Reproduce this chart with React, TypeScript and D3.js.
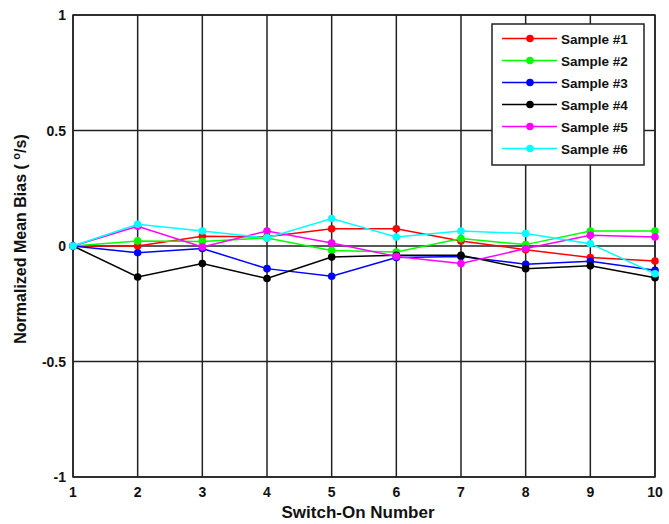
import React from "react";
import * as d3 from "d3";

const switchOn = [1, 2, 3, 4, 5, 6, 7, 8, 9, 10];
const sample1 = [0, 0.0, 0.042, 0.04, 0.075, 0.075, 0.022, -0.016, -0.05, -0.065];
const sample2 = [0, 0.022, 0.02, 0.035, -0.019, -0.026, 0.032, 0.006, 0.065, 0.065];
const sample3 = [0, -0.029, -0.011, -0.098, -0.131, -0.05, -0.045, -0.079, -0.066, -0.105];
const sample4 = [0, -0.134, -0.076, -0.141, -0.048, -0.04, -0.04, -0.098, -0.086, -0.137];
const sample5 = [0, 0.085, -0.004, 0.065, 0.013, -0.045, -0.076, -0.011, 0.046, 0.039];
const sample6 = [0, 0.094, 0.065, 0.035, 0.119, 0.039, 0.065, 0.054, 0.01, -0.12];
const seriesNames = ["Sample #1", "Sample #2", "Sample #3", "Sample #4", "Sample #5", "Sample #6"];
const seriesColors = ["#ff0000", "#00ff00", "#0000ff", "#000000", "#ff00ff", "#00ffff"];
const yTicks = [-1, -0.5, 0, 0.5, 1];
const yTickLabels = ["-1", "-0.5", "0", "0.5", "1"];

const allSeries = [sample1, sample2, sample3, sample4, sample5, sample6];

export default function App() {
  const W = 669, H = 524;
  const left = 73, right = 655, top = 15, bottom = 477;
  const x = d3.scaleLinear().domain([1, 10]).range([left, right]);
  const y = d3.scaleLinear().domain([-1, 1]).range([bottom, top]);
  const line = d3.line<number>().x((_, i) => x(switchOn[i])).y((v) => y(v));
  const font = "'Liberation Sans', Arial, sans-serif";
  const lgX = 492, lgY = 24, lgW = 152, lgH = 141;

  return (
    <svg width={W} height={H} style={{ position: "absolute", left: 0, top: 0, background: "#fff" }}>
      <rect x={0} y={0} width={W} height={H} fill="#fff" />
      {switchOn.map((v) => (
        <line key={"gx" + v} x1={x(v)} x2={x(v)} y1={top} y2={bottom} stroke="#222" strokeWidth={1.5} />
      ))}
      {yTicks.map((v) => (
        <line key={"gy" + v} x1={left} x2={right} y1={y(v)} y2={y(v)} stroke="#222" strokeWidth={1.5} />
      ))}
      <rect x={left} y={top} width={right - left} height={bottom - top} fill="none" stroke="#222" strokeWidth={1.5} />
      {switchOn.map((v) => (
        <text key={"tx" + v} x={x(v)} y={497} textAnchor="middle" fontFamily={font} fontWeight="bold" fontSize={14} fill="#111">
          {v}
        </text>
      ))}
      {yTicks.map((v, i) => (
        <text key={"ty" + v} x={left - 7} y={y(v) + 5} textAnchor="end" fontFamily={font} fontWeight="bold" fontSize={14} fill="#111">
          {yTickLabels[i]}
        </text>
      ))}
      <text x={358} y={518} textAnchor="middle" fontFamily={font} fontWeight="bold" fontSize={17} fill="#111">
        Switch-On Number
      </text>
      <text
        transform={`translate(26, 239) rotate(-90)`}
        textAnchor="middle"
        fontFamily={font}
        fontWeight="bold"
        fontSize={16}
        fill="#111"
      >
        Normalized Mean Bias ( <tspan dy={-6} fontSize={11}>o</tspan><tspan dy={6}>/s)</tspan>
      </text>
      {allSeries.map((s, k) => (
        <g key={"s" + k}>
          <path d={line(s) || ""} fill="none" stroke={seriesColors[k]} strokeWidth={1.5} />
          {s.map((v, i) => (
            <circle key={i} cx={x(switchOn[i])} cy={y(v)} r={3.8} fill={seriesColors[k]} />
          ))}
        </g>
      ))}
      <rect x={lgX} y={lgY} width={lgW} height={lgH} fill="#fff" stroke="#222" strokeWidth={1.5} />
      {seriesNames.map((n, k) => {
        const ry = 38.5 + k * 22;
        return (
          <g key={"lg" + k}>
            <line x1={502} x2={557} y1={ry} y2={ry} stroke={seriesColors[k]} strokeWidth={1.5} />
            <circle cx={530} cy={ry} r={3.8} fill={seriesColors[k]} />
            <text x={561} y={ry + 5} fontFamily={font} fontWeight="bold" fontSize={13.5} fill="#111">
              {n}
            </text>
          </g>
        );
      })}
    </svg>
  );
}
